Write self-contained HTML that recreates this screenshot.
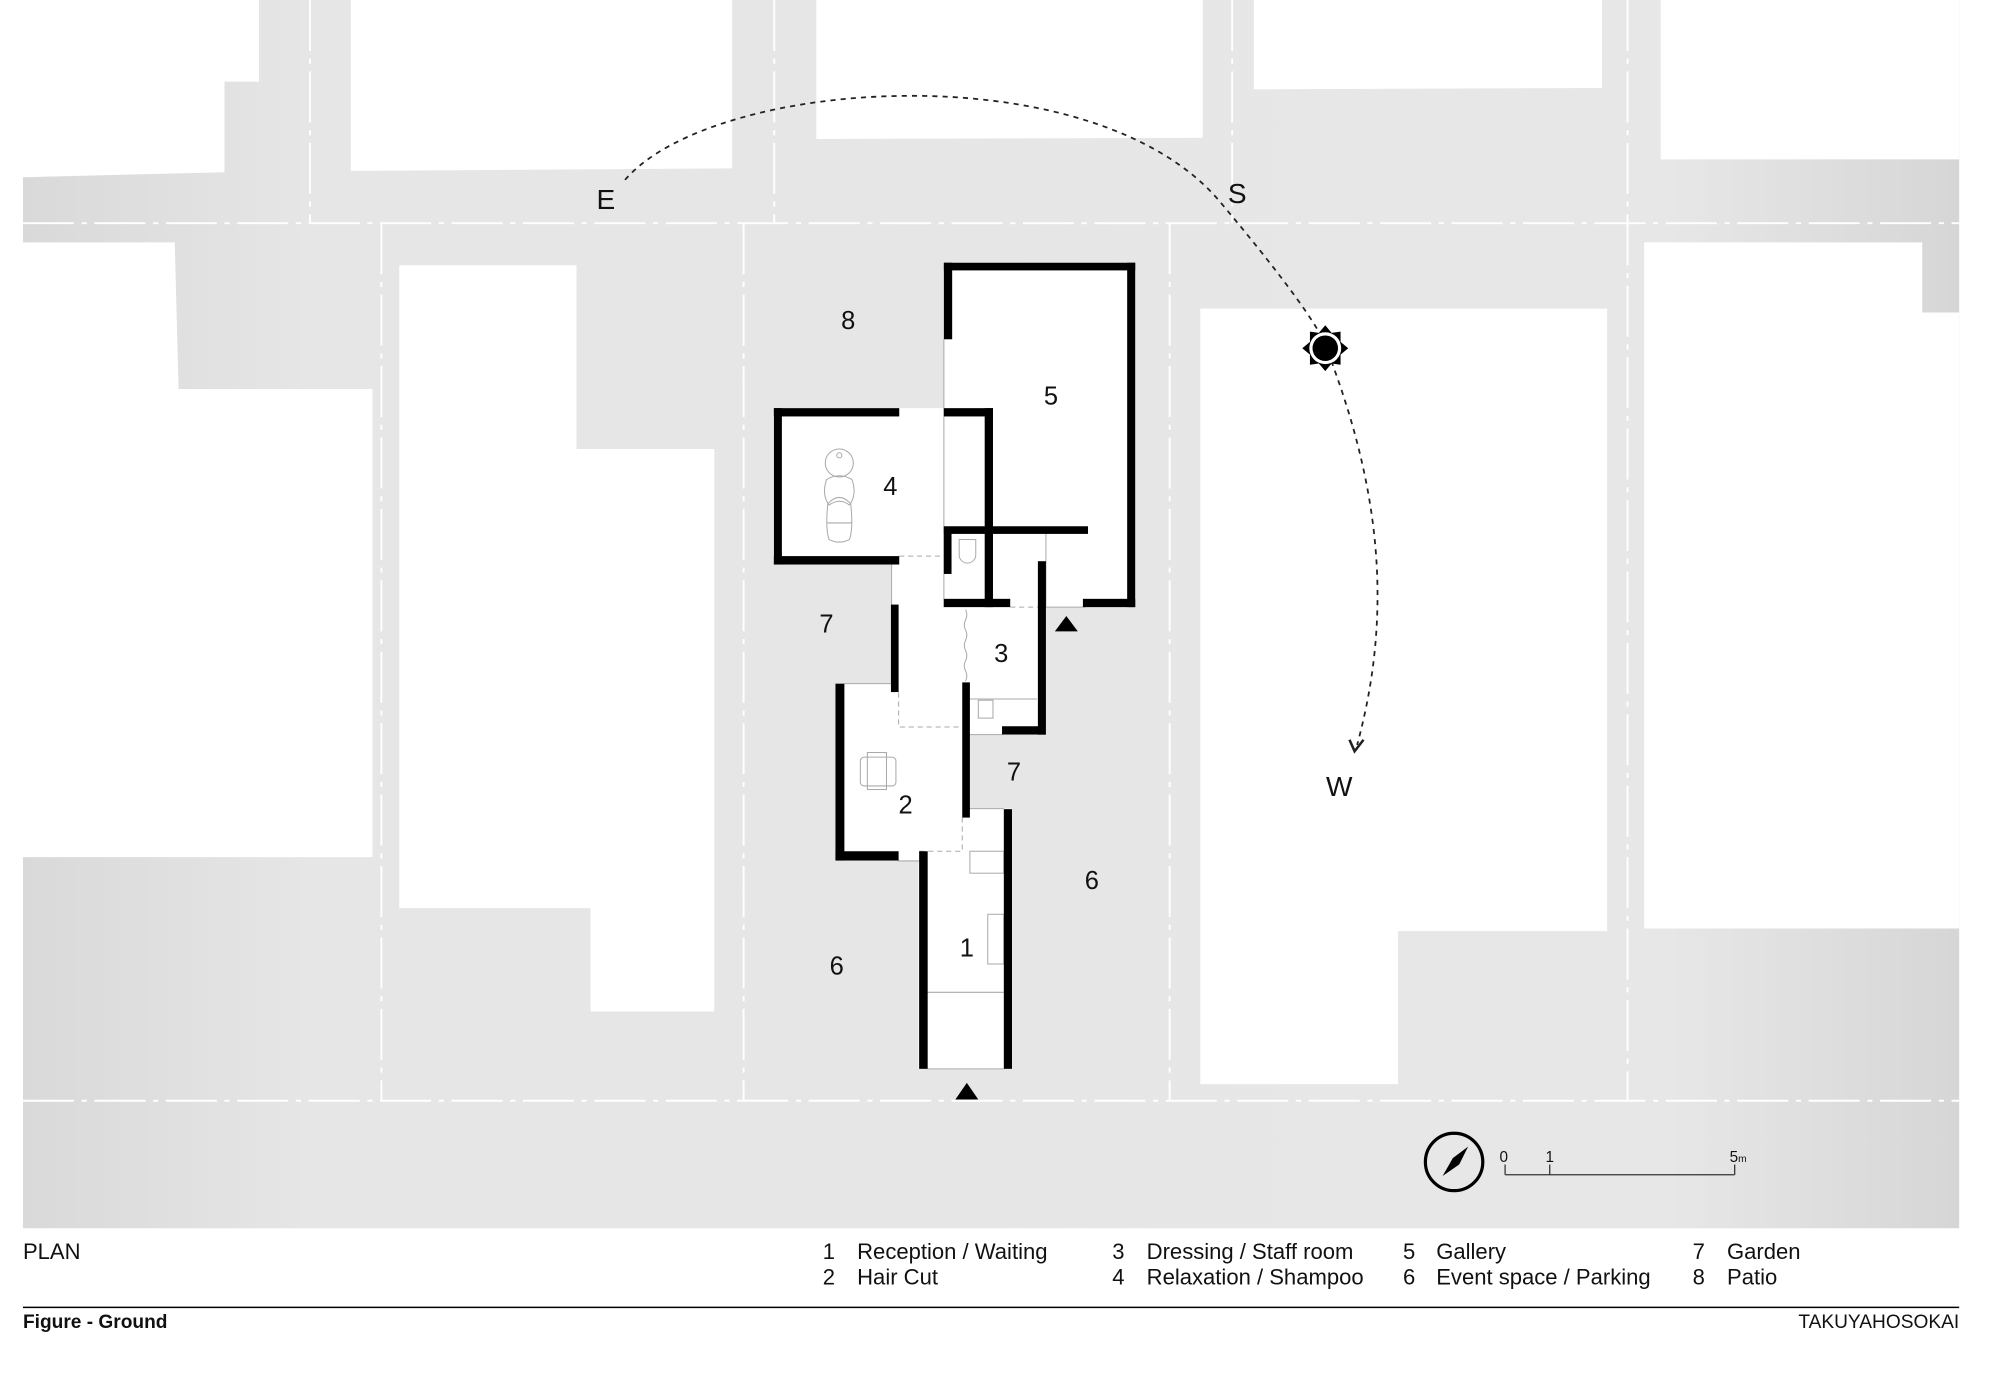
<!DOCTYPE html>
<html><head><meta charset="utf-8"><style>
html,body{margin:0;padding:0;background:#fff;width:2000px;height:1377px;overflow:hidden}
svg{display:block}
text{font-family:"Liberation Sans",sans-serif;fill:#111}
</style></head><body>
<svg width="2000" height="1377" viewBox="0 0 1568 1079.6" preserveAspectRatio="none" xmlns="http://www.w3.org/2000/svg">
<defs>
<linearGradient id="g" x1="0" x2="1" y1="0" y2="0">
<stop offset="0" stop-color="#d9d9d9"/><stop offset="0.15" stop-color="#e6e6e6"/><stop offset="0.85" stop-color="#e7e7e7"/><stop offset="1" stop-color="#d6d6d6"/>
</linearGradient>
</defs>
<rect x="0" y="0" width="1568" height="1080" fill="#fff"/>
<rect x="18" y="0" width="1518" height="963" fill="url(#g)"/>
<g fill="#fff">
<polygon points="18,0 203,0 203,64 176,64 176,135 18,139"/>
<polygon points="275,0 574,0 574,132 275,134"/>
<polygon points="640,0 943,0 943,108 640,109"/>
<polygon points="983,0 1256,0 1256,69 983,70"/>
<polygon points="1302,0 1536,0 1536,125 1302,125"/>
<polygon points="18,190 137,190 140,305 292,305 292,672 18,672"/>
<polygon points="313,208 452,208 452,352 560,352 560,793 463,793 463,712 313,712"/>
<polygon points="941,242 1260,242 1260,730 1096,730 1096,850 941,850"/>
<polygon points="1289,190 1507,190 1507,245 1536,245 1536,728 1289,728"/>
</g>
<g stroke="#fff" stroke-width="1.5" stroke-dasharray="40 6 4 6" fill="none">
<line x1="18" y1="175" x2="1536" y2="175"/>
<line x1="18" y1="863" x2="1536" y2="863"/>
<line x1="243" y1="0" x2="243" y2="175"/>
<line x1="607" y1="0" x2="607" y2="175"/>
<line x1="966" y1="0" x2="966" y2="175"/>
<line x1="1276" y1="0" x2="1276" y2="863"/>
<line x1="299" y1="175" x2="299" y2="863"/>
<line x1="583" y1="175" x2="583" y2="863"/>
<line x1="917" y1="175" x2="917" y2="863"/>
</g>
<g fill="#fff">
<rect x="740" y="206" width="150" height="270"/>
<rect x="606" y="320" width="134" height="122"/>
<rect x="699" y="436" width="61" height="140"/>
<rect x="740" y="413" width="80" height="163"/>
<rect x="655" y="536" width="105" height="139"/>
<rect x="720" y="634" width="73" height="204"/>
</g>
<g stroke="#aaa" stroke-width="0.8" fill="none">
<line x1="740" y1="266" x2="740" y2="476"/>
<line x1="820" y1="418" x2="820" y2="476"/>
<line x1="820" y1="476" x2="851" y2="476"/>
<line x1="699" y1="442" x2="699" y2="474"/>
<line x1="662" y1="536" x2="699" y2="536"/>
<line x1="704" y1="675" x2="721" y2="675"/>
<line x1="760" y1="634" x2="787" y2="634"/>
<line x1="727" y1="778" x2="787" y2="778"/>
<line x1="727" y1="838" x2="787" y2="838"/>
<line x1="760" y1="548" x2="813" y2="548"/>
<line x1="760" y1="576" x2="786" y2="576"/>
<rect x="767" y="549" width="11.5" height="14"/>
<rect x="760.4" y="667.4" width="26.6" height="17.2"/>
<rect x="774.4" y="716.8" width="12.6" height="39"/>
<rect x="674.5" y="593.6" width="27.9" height="22.6" rx="3"/>
<rect x="680" y="590" width="15" height="29"/>
<path d="M757 478 q2 4 0 8 q-2 4 0 8 q2 4 0 8 q-2 4 0 8 q2 4 0 8 q-2 4 0 8 q2 4 0 8" />
<circle cx="658" cy="363" r="11"/>
<circle cx="658" cy="357" r="2"/>
<path d="M648 376 q10 -6 20 0 q4 12 -2 20 q-8 -6 -16 0 q-6 -8 -2 -20z"/>
<path d="M649 395 q9 -10 18 0 q2 20 -1 28 q-8 4 -16 0 q-3 -8 -1 -28z"/>
<line x1="648" y1="410" x2="668" y2="410"/>
<path d="M752 423 h13 v12 a6.5 6.5 0 0 1 -13 0z"/>
</g>
<g stroke="#aaa" stroke-width="0.8" stroke-dasharray="4 3" fill="none">
<line x1="705" y1="436" x2="740" y2="436"/>
<line x1="792" y1="476" x2="814" y2="476"/>
<polyline points="704.5,543 704.5,570 754.4,570"/>
<polyline points="754.4,641 754.4,667.4 720.6,667.4"/>
</g>
<g fill="#000">
<rect x="740" y="206" width="150" height="6"/>
<rect x="740" y="206" width="6.5" height="60"/>
<rect x="883.7" y="206" width="6.3" height="270"/>
<rect x="849" y="469.5" width="41" height="6.5"/>
<rect x="606.7" y="320" width="6.3" height="122.6"/>
<rect x="606.7" y="320" width="98.3" height="6.5"/>
<rect x="606.7" y="436" width="98.3" height="6.6"/>
<rect x="740" y="320" width="38.5" height="6.5"/>
<rect x="772" y="320" width="6.5" height="156"/>
<rect x="740" y="412.6" width="113" height="6"/>
<rect x="740" y="413" width="6" height="37"/>
<rect x="740" y="469.5" width="52" height="6.5"/>
<rect x="813.7" y="440" width="6.3" height="136"/>
<rect x="785.6" y="569.4" width="34" height="6.5"/>
<rect x="698.5" y="474" width="6" height="68.6"/>
<rect x="754.4" y="535" width="6" height="106"/>
<rect x="655" y="536" width="7" height="138.7"/>
<rect x="655" y="667.4" width="49.5" height="7.3"/>
<rect x="720.6" y="667.4" width="6.7" height="170.6"/>
<rect x="787" y="634.4" width="6.4" height="203.6"/>
<polygon points="836,483 845,495 827,495"/>
<polygon points="758,849 767,862 749,862"/>
</g>
<path d="M490,141 C560,60 860,40 958,160 C1000,210 1030,250 1038,268 C1078,370 1095,470 1064,584" fill="none" stroke="#222" stroke-width="1.4" stroke-dasharray="4 4"/>
<path d="M1058,580 L1062,589 L1069,580" fill="none" stroke="#222" stroke-width="2"/>
<g transform="translate(1039,273)">
<polygon fill="#000" points="0,-18 5,-12 12,-13 12,-5 18,0 12,5 12,13 5,12 0,18 -5,12 -12,13 -12,5 -18,0 -12,-5 -12,-13 -5,-12"/>
<circle r="12.5" fill="#fff"/>
<circle r="10" fill="#000"/>
</g>
<text x="475" y="164" font-size="22" text-anchor="middle">E</text>
<text x="970" y="159" font-size="22" text-anchor="middle">S</text>
<text x="1050" y="624" font-size="22" text-anchor="middle">W</text>
<g font-size="20" text-anchor="middle">
<text x="665" y="258">8</text>
<text x="824" y="317">5</text>
<text x="698" y="388">4</text>
<text x="648" y="496">7</text>
<text x="785" y="519">3</text>
<text x="795" y="612">7</text>
<text x="710" y="638">2</text>
<text x="856" y="697">6</text>
<text x="758" y="750">1</text>
<text x="656" y="764">6</text>
</g>
<circle cx="1140" cy="911" r="22.5" fill="none" stroke="#000" stroke-width="2.5"/>
<polygon points="1151,899 1144,913 1131,922 1139,908" fill="#000"/>
<g stroke="#333" stroke-width="1" fill="none">
<line x1="1180" y1="921" x2="1360" y2="921"/>
<line x1="1180" y1="913" x2="1180" y2="921"/>
<line x1="1215" y1="913" x2="1215" y2="921"/>
<line x1="1360" y1="913" x2="1360" y2="921"/>
</g>
<text x="1179" y="911" font-size="12" text-anchor="middle">0</text>
<text x="1215" y="911" font-size="12" text-anchor="middle">1</text>
<text x="1356" y="911" font-size="12">5<tspan font-size="8">m</tspan></text>
<g font-size="17.3">
<text x="18" y="987">PLAN</text>
<text x="645" y="987">1</text><text x="672" y="987">Reception / Waiting</text>
<text x="645" y="1007">2</text><text x="672" y="1007">Hair Cut</text>
<text x="872" y="987">3</text><text x="899" y="987">Dressing / Staff room</text>
<text x="872" y="1007">4</text><text x="899" y="1007">Relaxation / Shampoo</text>
<text x="1100" y="987">5</text><text x="1126" y="987">Gallery</text>
<text x="1100" y="1007">6</text><text x="1126" y="1007">Event space / Parking</text>
<text x="1327" y="987">7</text><text x="1354" y="987">Garden</text>
<text x="1327" y="1007">8</text><text x="1354" y="1007">Patio</text>
</g>
<line x1="18" y1="1025" x2="1536" y2="1025" stroke="#000" stroke-width="1.2"/>
<text x="18" y="1041" font-size="15" font-weight="bold">Figure - Ground</text>
<text x="1536" y="1041" font-size="15" text-anchor="end">TAKUYAHOSOKAI</text>
</svg>
</body></html>
